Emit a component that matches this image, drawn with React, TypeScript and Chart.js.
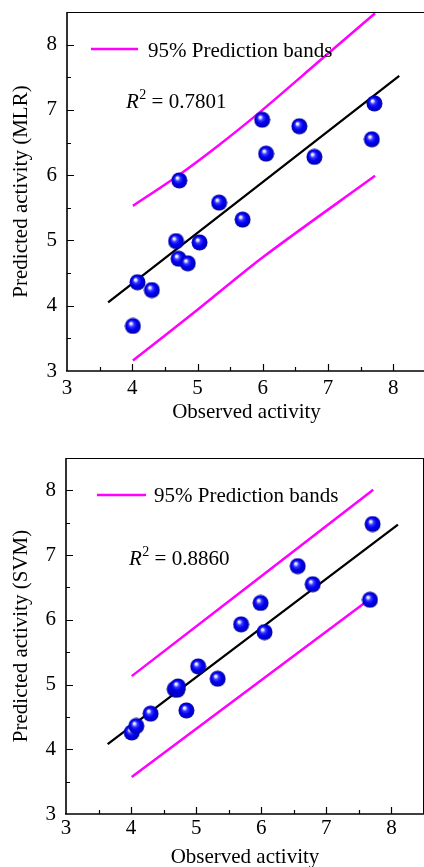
import { useEffect, useRef } from "react";
import { Chart, registerables } from "chart.js";

Chart.register(...registerables);

// ---------- data ----------
const observed = [4.01, 4.08, 4.3, 4.67, 4.71, 4.72, 4.85, 5.03, 5.33, 5.69, 5.99, 6.05, 6.56, 6.79, 7.67, 7.71];
const predictedMLR = [3.69, 4.36, 4.24, 4.99, 4.72, 5.92, 4.65, 4.97, 5.58, 5.32, 6.85, 6.33, 6.75, 6.28, 6.55, 7.1];
const predictedSVM = [4.26, 4.36, 4.55, 4.93, 4.92, 4.97, 4.6, 5.28, 5.09, 5.93, 6.26, 5.81, 6.83, 6.55, 6.31, 7.48];

const fitMLRx = [3.63, 8.09];
const fitMLRy = [4.05, 7.52];
const upperMLRx = [4.01, 4.71, 5.3, 5.96, 6.88, 7.72];
const upperMLRy = [5.53, 6.0, 6.44, 6.97, 7.76, 8.48];
const lowerMLRx = [4.01, 4.99, 6.01, 7.72];
const lowerMLRy = [3.16, 3.93, 4.75, 5.99];

const fitSVMx = [3.64, 8.1];
const fitSVMy = [4.08, 7.47];
const upperSVMx = [4.01, 7.72];
const upperSVMy = [5.13, 8.01];
const lowerSVMx = [4.01, 7.72];
const lowerSVMy = [3.57, 6.36];

const xTicks = [3, 4, 5, 6, 7, 8];
const yTicks = [3, 4, 5, 6, 7, 8];

const r2MLR = "0.7801";
const r2SVM = "0.8860";
const legendLabel = "95% Prediction bands";
const xTitle = "Observed activity";
const yTitleMLR = "Predicted activity (MLR)";
const yTitleSVM = "Predicted activity (SVM)";

// ---------- helpers ----------
const FONT = "'Liberation Serif', 'Times New Roman', serif";
const zip = (xs: number[], ys: number[]) => xs.map((x, i) => ({ x, y: ys[i] }));

function makeSphere(): HTMLCanvasElement {
  const size = 17;
  const c = document.createElement("canvas");
  c.width = size;
  c.height = size;
  const ctx = c.getContext("2d")!;
  const cx = size / 2;
  const cy = size / 2;
  const r = 8;
  const g = ctx.createRadialGradient(cx - 2.3, cy - 2.8, 0.2, cx, cy, r);
  g.addColorStop(0, "#ffffff");
  g.addColorStop(0.13, "#dcdcff");
  g.addColorStop(0.32, "#3a3aff");
  g.addColorStop(0.6, "#0000f2");
  g.addColorStop(0.88, "#0000c8");
  g.addColorStop(1, "#00008a");
  ctx.fillStyle = g;
  ctx.beginPath();
  ctx.arc(cx, cy, r, 0, Math.PI * 2);
  ctx.fill();
  return c;
}

type Deco = {
  legendLine: [number, number, number];
  legendText: [number, number];
  r2: [number, number];
  r2Value: string;
};

function decoPlugin(d: Deco) {
  return {
    id: "deco",
    afterDraw(chart: any) {
      const { ctx, chartArea: a, scales } = chart;
      const xs = scales.x;
      const ys = scales.y;
      ctx.save();
      ctx.strokeStyle = "#000";
      // frame
      ctx.lineWidth = 1;
      ctx.beginPath();
      ctx.moveTo(a.left, a.top + 0.5);
      ctx.lineTo(a.right, a.top + 0.5);
      ctx.moveTo(a.right - 0.5, a.top);
      ctx.lineTo(a.right - 0.5, a.bottom);
      ctx.stroke();
      ctx.lineWidth = 1.6;
      ctx.beginPath();
      ctx.moveTo(a.left, a.top);
      ctx.lineTo(a.left, a.bottom);
      ctx.moveTo(a.left - 1, a.bottom);
      ctx.lineTo(a.right, a.bottom);
      ctx.stroke();
      // inward ticks
      ctx.lineWidth = 1.2;
      ctx.beginPath();
      for (let v = 3.5; v <= 8.001; v += 0.5) {
        const len = Number.isInteger(v) ? 7 : 4;
        const px = Math.round(xs.getPixelForValue(v)) + 0.5;
        ctx.moveTo(px, a.bottom);
        ctx.lineTo(px, a.bottom - len);
        const py = Math.round(ys.getPixelForValue(v)) + 0.5;
        ctx.moveTo(a.left, py);
        ctx.lineTo(a.left + len, py);
      }
      ctx.stroke();
      // legend
      const [lx1, lx2, ly] = d.legendLine;
      ctx.strokeStyle = "#ff00ff";
      ctx.lineWidth = 2.5;
      ctx.beginPath();
      ctx.moveTo(lx1, ly);
      ctx.lineTo(lx2, ly);
      ctx.stroke();
      ctx.fillStyle = "#000";
      ctx.textBaseline = "alphabetic";
      ctx.textAlign = "left";
      ctx.font = `21px ${FONT}`;
      ctx.fillText(legendLabel, d.legendText[0], d.legendText[1]);
      // R^2
      const [rx, ry] = d.r2;
      ctx.font = `italic 21px ${FONT}`;
      ctx.fillText("R", rx, ry);
      const wR = ctx.measureText("R").width;
      ctx.font = `14px ${FONT}`;
      ctx.fillText("2", rx + wR + 0.5, ry - 9);
      const w2 = ctx.measureText("2").width;
      ctx.font = `21px ${FONT}`;
      ctx.fillText(" = " + d.r2Value, rx + wR + w2 + 0.5, ry);
      ctx.restore();
    },
  };
}

function buildConfig(opts: {
  pred: number[];
  fitx: number[];
  fity: number[];
  upx: number[];
  upy: number[];
  lox: number[];
  loy: number[];
  yTitle: string;
  padTop: number;
  yWidth: number;
  xHeight: number;
  xTickPad: number;
  xTitlePad: number;
  deco: Deco;
  sphere: HTMLCanvasElement;
}) {
  const font = { family: FONT, size: 21 };
  const lineDs = (data: any[], color: string, width: number) => ({
    data,
    showLine: true,
    borderColor: color,
    borderWidth: width,
    pointRadius: 0,
    pointHoverRadius: 0,
    tension: 0.3,
    fill: false,
  });
  return {
    type: "scatter" as const,
    data: {
      datasets: [
        {
          data: zip(observed, opts.pred),
          pointStyle: opts.sphere,
          pointRadius: 8,
          clip: false,
        },
        lineDs(zip(opts.fitx, opts.fity), "#000000", 2.3),
        lineDs(zip(opts.upx, opts.upy), "#ff00ff", 2.5),
        lineDs(zip(opts.lox, opts.loy), "#ff00ff", 2.5),
      ],
    },
    options: {
      responsive: false,
      animation: false,
      devicePixelRatio: 1,
      layout: { autoPadding: false, padding: { top: opts.padTop, left: 0, right: 0, bottom: 0 } },
      plugins: { legend: { display: false }, tooltip: { enabled: false } },
      scales: {
        x: {
          type: "linear",
          min: 3,
          max: 8.5,
          grid: { display: false, drawTicks: false },
          border: { display: false },
          ticks: { font, color: "#000", padding: opts.xTickPad, maxRotation: 0, autoSkip: false },
          title: {
            display: true,
            text: xTitle,
            font,
            color: "#000",
            padding: { top: 0, bottom: opts.xTitlePad },
          },
          afterBuildTicks: (s: any) => {
            s.ticks = xTicks.map((v) => ({ value: v }));
          },
          afterFit: (s: any) => {
            s.height = opts.xHeight;
            s.paddingLeft = 0;
            s.paddingRight = 0;
          },
        },
        y: {
          type: "linear",
          min: 3,
          max: 8.5,
          grid: { display: false, drawTicks: false },
          border: { display: false },
          ticks: { font, color: "#000", padding: 10, autoSkip: false },
          title: {
            display: true,
            text: opts.yTitle,
            font,
            color: "#000",
            padding: { top: 9, bottom: 0 },
          },
          afterBuildTicks: (s: any) => {
            s.ticks = yTicks.map((v) => ({ value: v }));
          },
          afterFit: (s: any) => {
            s.width = opts.yWidth;
            s.paddingTop = 0;
            s.paddingBottom = 0;
          },
        },
      },
    },
    plugins: [decoPlugin(opts.deco)],
  };
}

export default function App() {
  const topRef = useRef<HTMLCanvasElement>(null);
  const botRef = useRef<HTMLCanvasElement>(null);

  useEffect(() => {
    const sphere = makeSphere();
    const c1 = new Chart(
      topRef.current!,
      buildConfig({
        pred: predictedMLR,
        fitx: fitMLRx,
        fity: fitMLRy,
        upx: upperMLRx,
        upy: upperMLRy,
        lox: lowerMLRx,
        loy: lowerMLRy,
        yTitle: yTitleMLR,
        padTop: 12,
        yWidth: 67,
        xHeight: 59,
        xTickPad: 5,
        xTitlePad: 5,
        deco: { legendLine: [91, 138, 49], legendText: [148, 57], r2: [126, 108], r2Value: r2MLR },
        sphere,
      }) as any
    );
    const c2 = new Chart(
      botRef.current!,
      buildConfig({
        pred: predictedSVM,
        fitx: fitSVMx,
        fity: fitSVMy,
        upx: upperSVMx,
        upy: upperSVMy,
        lox: lowerSVMx,
        loy: lowerSVMy,
        yTitle: yTitleSVM,
        padTop: 28,
        yWidth: 66,
        xHeight: 56,
        xTickPad: 2,
        xTitlePad: 0,
        deco: { legendLine: [97, 146, 65], legendText: [154, 72], r2: [129, 135], r2Value: r2SVM },
        sphere,
      }) as any
    );
    return () => {
      c1.destroy();
      c2.destroy();
    };
  }, []);

  return (
    <div
      style={{
        position: "absolute",
        left: 0,
        top: 0,
        width: 424,
        height: 867,
        overflow: "hidden",
        background: "#fff",
      }}
    >
      <canvas ref={topRef} width={426} height={430} style={{ position: "absolute", left: 0, top: 0 }} />
      <canvas ref={botRef} width={424} height={440} style={{ position: "absolute", left: 0, top: 430 }} />
    </div>
  );
}
